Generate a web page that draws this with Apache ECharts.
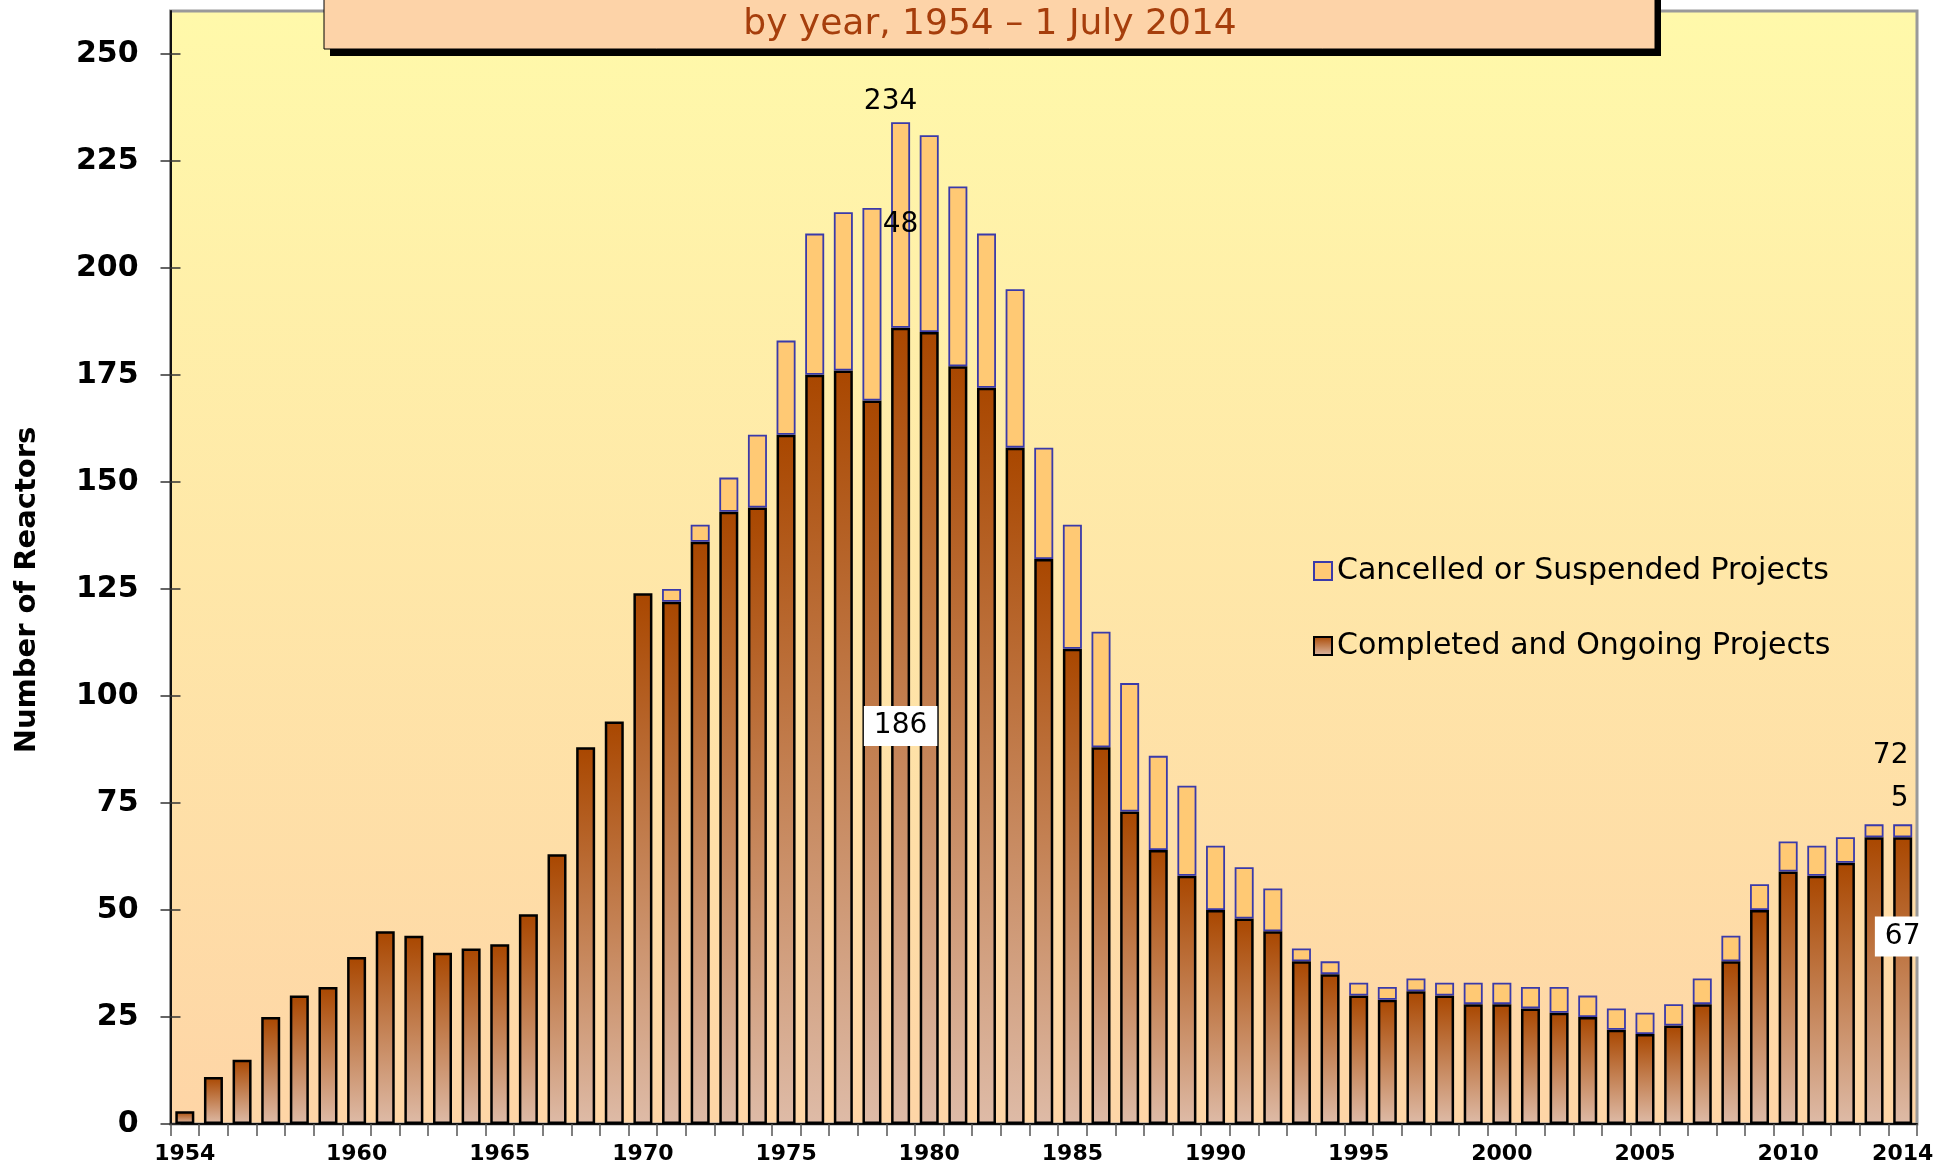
<!DOCTYPE html>
<html>
<head>
<meta charset="utf-8">
<title>Reactor construction starts by year</title>
<script src="https://cdn.jsdelivr.net/npm/echarts@6.0.0/dist/echarts.min.js"></script>
<style>
html, body { margin: 0; padding: 0; background: #fff; }
#chart { width: 1937px; height: 1168px; }
</style>
</head>
<body>
<div id="chart"></div>
<script>
// data
var years = ['1954','1955','1956','1957','1958','1959','1960','1961','1962','1963',
    '1964','1965','1966','1967','1968','1969','1970','1971','1972','1973',
    '1974','1975','1976','1977','1978','1979','1980','1981','1982','1983',
    '1984','1985','1986','1987','1988','1989','1990','1991','1992','1993',
    '1994','1995','1996','1997','1998','1999','2000','2001','2002','2003',
    '2004','2005','2006','2007','2008','2009','2010','2011','2012','2013','2014'];
var completed = [3, 11, 15, 25, 30, 32, 39, 45, 44, 40,
    41, 42, 49, 63, 88, 94, 124, 122, 136, 143,
    144, 161, 175, 176, 169, 186, 185, 177, 172, 158,
    132, 111, 88, 73, 64, 58, 50, 48, 45, 38,
    35, 30, 29, 31, 30, 28, 28, 27, 26, 25,
    22, 21, 23, 28, 38, 50, 59, 58, 61, 67, 67];
var cancelled = [0, 0, 0, 0, 0, 0, 0, 0, 0, 0,
    0, 0, 0, 0, 0, 0, 0, 3, 4, 8,
    17, 22, 33, 37, 45, 48, 46, 42, 36, 37,
    26, 29, 27, 30, 22, 21, 15, 12, 10, 3,
    3, 3, 3, 3, 3, 5, 5, 5, 6, 5,
    5, 5, 5, 6, 6, 6, 7, 7, 6, 3, 3];
var yTicks = [0, 25, 50, 75, 100, 125, 150, 175, 200, 225, 250];
var xLabelYears = ['1954','1960','1965','1970','1975','1980','1985','1990','1995','2000','2005','2010','2014'];
var lastNotes = ['72', '5'];   // texts printed over the 2014 bar

var names = ['Cancelled or Suspended Projects', 'Completed and Ongoing Projects'];
var peakIdx = years.indexOf('1979');
var lastIdx = years.length - 1;
var labelFont = {fontFamily: 'DejaVu Sans', fontSize: 28, color: '#000'};

var completedData = completed.map(function(v, i) {
    if (i == peakIdx) {
        return {value: v, label: Object.assign({show: true, position: 'inside', formatter: '{c}',
            backgroundColor: '#fff', padding: [7, 10, 5, 10]}, labelFont)};
    }
    if (i == lastIdx) {
        return {value: v, label: Object.assign({show: true, position: 'inside', offset: [0, -44], formatter: '{c}',
            backgroundColor: '#fff', padding: [7, 10, 5, 10]}, labelFont)};
    }
    return v;
});
var cancelledData = cancelled.map(function(v, i) {
    if (v == 0) return null;
    if (i == peakIdx) {
        return {value: v, label: Object.assign({show: true, position: 'inside', formatter: '{c}'}, labelFont)};
    }
    if (i == lastIdx) {
        return {value: v, label: {show: true, position: 'top', distance: 4, offset: [-12, 0],
            formatter: '{a|' + lastNotes[0] + '}\n{a|' + lastNotes[1] + '}',
            rich: {a: {fontFamily: 'DejaVu Sans', fontSize: 28, color: '#000', lineHeight: 43, align: 'right'}}}};
    }
    return v;
});

var myChart = echarts.init(document.getElementById('chart'));
var option = {
    animation: false,
    backgroundColor: '#fff',
    grid: {
        left: 170.5, right: 20, top: 11, bottom: 44,
        show: true,
        borderColor: '#9a9a9a',
        borderWidth: 3,
        backgroundColor: new echarts.graphic.LinearGradient(0, 0, 0, 1, [
            {offset: 0, color: '#FFF9AA'},
            {offset: 1, color: '#FED5A6'}
        ])
    },
    legend: {
        data: names,
        orient: 'vertical',
        left: 1313, top: 556,
        padding: 0,
        itemWidth: 18, itemHeight: 18,
        itemGap: 45,
        icon: 'rect',
        textStyle: {fontFamily: 'DejaVu Sans', fontSize: 30, color: '#000'}
    },
    xAxis: {
        type: 'category',
        data: years,
        axisLine: {lineStyle: {color: '#111', width: 2}},
        axisTick: {show: true, interval: 0, length: 12, lineStyle: {color: '#555', width: 1.5}},
        axisLabel: {
            interval: function(i, v) { return xLabelYears.indexOf(v) >= 0; },
            margin: 19,
            fontFamily: 'DejaVu Sans', fontWeight: 'bold', fontSize: 22, color: '#000'
        },
        splitLine: {show: false}
    },
    yAxis: [{
        type: 'value',
        min: 0, max: 260,
        axisLine: {show: true, lineStyle: {color: '#111', width: 2}},
        axisTick: {show: true, length: 10, customValues: yTicks, lineStyle: {color: '#333', width: 1.5}},
        axisLabel: {customValues: yTicks, margin: 32,
            fontFamily: 'DejaVu Sans', fontWeight: 'bold', fontSize: 30, color: '#000'},
        splitLine: {show: false}
    }, {
        type: 'value',
        min: 0, max: 260,
        position: 'left',
        axisLine: {show: false},
        axisTick: {show: true, inside: true, length: 10, customValues: yTicks, lineStyle: {color: '#333', width: 1.5}},
        axisLabel: {show: false},
        splitLine: {show: false}
    }],
    graphic: [
        {type: 'rect', z: 100, shape: {x: 330, y: -40, width: 1331, height: 96}, style: {fill: '#000'}},
        {type: 'rect', z: 101, shape: {x: 324, y: -40, width: 1331, height: 89},
            style: {fill: '#FDD3A8', stroke: '#000', lineWidth: 1}},
        {type: 'text', z: 102, x: 990, y: 25,
            style: {text: 'by year, 1954 \u2013 1 July 2014', fill: '#A63E0C',
                font: '36px "DejaVu Sans"', textAlign: 'center', textVerticalAlign: 'middle'}},
        {type: 'text', z: 102, x: 27, y: 590, rotation: Math.PI / 2,
            style: {text: 'Number of Reactors', fill: '#000',
                font: 'bold 29px "DejaVu Sans"', textAlign: 'center', textVerticalAlign: 'middle'}}
    ],
    series: [{
        name: names[1],
        type: 'bar',
        stack: 'total',
        barWidth: 19,
        itemStyle: {
            color: new echarts.graphic.LinearGradient(0, 0, 0, 1, [
                {offset: 0, color: '#A94700'},
                {offset: 1, color: '#DEBBA7'}
            ]),
            borderColor: '#000',
            borderWidth: 2.5
        },
        data: completedData
    }, {
        name: names[0],
        type: 'bar',
        stack: 'total',
        barWidth: 19,
        itemStyle: {color: '#FFC974', borderColor: '#3A3AAA', borderWidth: 1.8},
        data: cancelledData,
        markPoint: {
            symbol: 'circle',
            symbolSize: 0,
            label: Object.assign({show: true, position: 'top', distance: 7, offset: [-10, 0], formatter: '{c}'}, labelFont),
            data: [{coord: [years[peakIdx], completed[peakIdx] + cancelled[peakIdx]],
                value: completed[peakIdx] + cancelled[peakIdx]}]
        }
    }]
};
myChart.setOption(option);
</script>
</body>
</html>
